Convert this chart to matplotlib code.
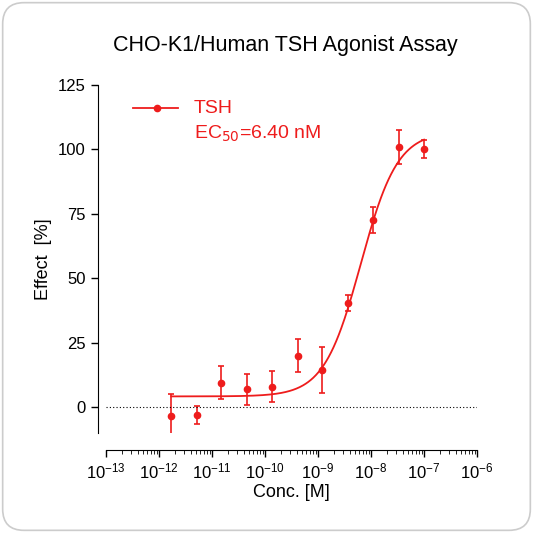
import numpy as np
import matplotlib.pyplot as plt
from matplotlib.patches import FancyBboxPatch
from matplotlib.ticker import LogLocator, FixedLocator

plt.rcParams['font.family'] = ['Liberation Sans', 'DejaVu Sans']

conc = [1.7e-12, 5.1e-12, 1.5e-11, 4.6e-11, 1.37e-10, 4.1e-10, 1.2e-9, 3.7e-9, 1.1e-8, 3.3e-8, 1e-7]
effect = [-3.5, -3.0, 9.5, 7.0, 8.0, 20.0, 14.5, 40.5, 72.5, 101.0, 100.0]
err = [8.5, 3.5, 6.5, 6.0, 6.0, 6.5, 9.0, 3.0, 5.0, 6.5, 3.5]
bottom, top, ec50, hill = 4.2, 107.0, 6.4e-9, 1.25

red = '#ee1c1c'
fig = plt.figure(figsize=(5.33, 5.33), dpi=100)
box = FancyBboxPatch((0.005, 0.005), 0.99, 0.99, boxstyle='round,pad=0,rounding_size=0.04',
                     transform=fig.transFigure, fc='white', ec='#cccccc', lw=1.2, zorder=-10)
fig.patches.append(box)
ax = fig.add_axes([0.199, 0.1876, 0.696, 0.653])
ax.patch.set_alpha(0)

xs = np.logspace(np.log10(1.7e-12), -7, 300)
ys = bottom + (top - bottom) / (1 + (ec50 / xs) ** hill)
ax.plot(xs, ys, color=red, lw=1.3)
ax.errorbar(conc, effect, yerr=err, fmt='o', color=red, ms=4.5, capsize=2.5, elinewidth=1.2, capthick=1.2)
ax.axhline(0, color='black', ls=(0, (1, 2)), lw=0.8)

ax.set_xscale('log')
ax.set_xlim(1e-13, 1e-6)
ax.set_ylim(-10, 125)
ax.set_yticks([0, 25, 50, 75, 100, 125])
ax.xaxis.set_major_locator(FixedLocator([10.0 ** k for k in range(-13, -5)]))
ax.xaxis.set_minor_locator(LogLocator(base=10, subs=np.arange(2, 10), numticks=20))
for s in ['top', 'right']:
    ax.spines[s].set_visible(False)
ax.spines['left'].set_position(('outward', 6))
ax.spines['bottom'].set_position(('outward', 12))
ax.tick_params(labelsize=12, width=1, length=5, color='black')
ax.tick_params(which='minor', length=3)
ax.set_xlabel('Conc. [M]', fontsize=13, labelpad=2)
ax.set_ylabel('Effect  [%]', fontsize=13)
fig.text(0.535, 0.905, 'CHO-K1/Human TSH Agonist Assay', ha='center', fontsize=15.5)

ax.plot([3.2e-13, 2.3e-12], [116, 116], color=red, lw=1.3)
ax.plot([9e-13], [116], 'o', color=red, ms=4.5)
ax.text(4.5e-12, 116, 'TSH', color=red, fontsize=14, va='center')
ax.text(4.5e-12, 106, 'EC$_{50}$=6.40 nM', color=red, fontsize=14, va='center')

fig.savefig('out.png', dpi=100)
